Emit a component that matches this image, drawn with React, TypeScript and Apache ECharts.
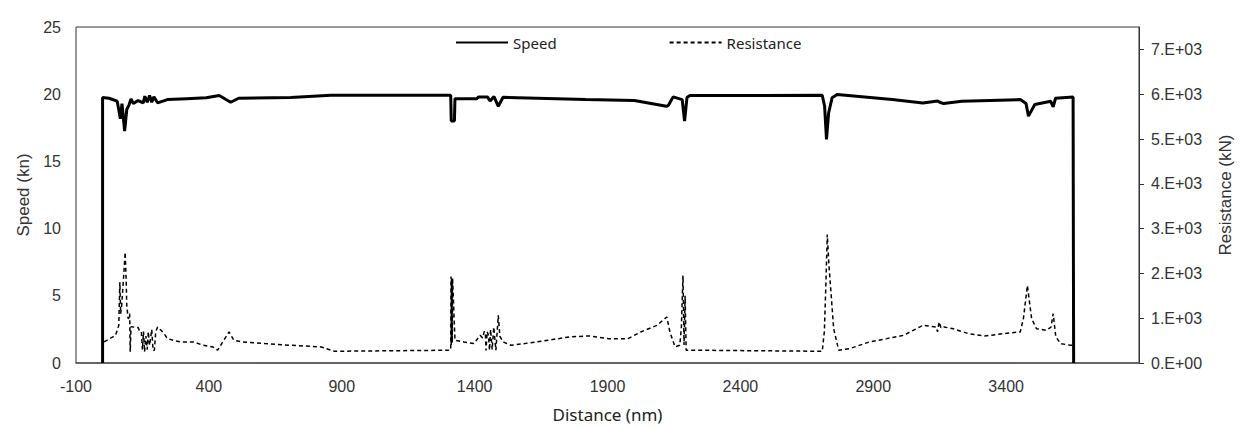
import React, { useEffect, useRef } from "react";
import * as echarts from "echarts";

// Speed (kn) vs distance (nm)
const speedDist = [0, 0, 24, 55, 67, 73, 83, 91, 100, 107, 116, 134, 153, 159, 168, 177, 185, 193, 207, 244, 317, 390, 439, 482, 512, 708, 859, 1310, 1312, 1324, 1326, 1408, 1415, 1448, 1458, 1473, 1480, 1489, 1507, 1818, 2001, 2122, 2129, 2147, 2181, 2190, 2199, 2210, 2708, 2717, 2724, 2732, 2745, 2764, 2971, 3087, 3142, 3150, 3165, 3233, 3453, 3475, 3484, 3508, 3568, 3577, 3586, 3652, 3654, 3654];
const speedVal = [0, 19.75, 19.7, 19.48, 18.17, 19.3, 17.26, 18.86, 19.23, 19.65, 19.3, 19.53, 19.36, 19.85, 19.4, 19.9, 19.4, 19.8, 19.36, 19.6, 19.67, 19.73, 19.9, 19.4, 19.7, 19.75, 19.92, 19.92, 18.0, 18.0, 19.67, 19.67, 19.8, 19.8, 19.5, 19.82, 19.5, 19.1, 19.77, 19.6, 19.53, 19.1, 19.16, 19.8, 19.6, 18.0, 19.75, 19.9, 19.92, 19.1, 16.64, 18.6, 19.73, 19.97, 19.6, 19.35, 19.5, 19.4, 19.3, 19.48, 19.6, 19.3, 18.37, 19.23, 19.47, 19.06, 19.7, 19.8, 19.8, 0];

// Resistance (kN) vs distance (nm)
const resDist = [6, 49, 61, 65, 68, 72, 80, 85, 89, 91, 96, 98, 102, 104, 107, 120, 134, 140, 146, 150, 154, 158, 163, 168, 172, 177, 185, 190, 195, 200, 207, 220, 232, 244, 270, 293, 342, 378, 415, 433, 452, 476, 494, 525, 610, 708, 822, 873, 1299, 1310, 1311, 1312, 1313, 1314, 1315, 1316, 1317, 1326, 1360, 1397, 1421, 1430, 1436, 1440, 1443, 1447, 1452, 1456, 1460, 1466, 1472, 1480, 1489, 1495, 1507, 1537, 1635, 1757, 1830, 1903, 1977, 2025, 2086, 2123, 2135, 2154, 2172, 2178, 2184, 2188, 2192, 2196, 2230, 2708, 2716, 2722, 2727, 2733, 2739, 2751, 2770, 2812, 2886, 2951, 3014, 3087, 3130, 3136, 3142, 3148, 3155, 3166, 3197, 3258, 3319, 3392, 3453, 3465, 3480, 3496, 3514, 3550, 3569, 3577, 3587, 3605, 3642, 3652];
const resVal = [471, 618, 840, 1800, 1100, 1300, 2000, 2471, 1800, 1284, 1000, 989, 1100, 249, 811, 800, 790, 700, 693, 300, 700, 249, 600, 300, 700, 396, 750, 280, 285, 700, 804, 730, 650, 544, 500, 471, 471, 396, 359, 285, 471, 693, 507, 471, 433, 396, 359, 262, 285, 290, 1930, 400, 1900, 500, 1880, 450, 1900, 507, 470, 433, 618, 560, 700, 693, 280, 700, 618, 285, 750, 300, 800, 285, 1062, 600, 471, 396, 471, 582, 604, 544, 544, 693, 840, 1027, 693, 360, 396, 800, 1951, 400, 1500, 285, 285, 262, 700, 1800, 2870, 2200, 1729, 767, 285, 322, 471, 544, 618, 840, 810, 804, 700, 916, 780, 804, 770, 656, 604, 656, 693, 989, 1729, 989, 767, 730, 800, 1100, 582, 433, 396, 396];

const xLabels = [-100, 400, 900, 1400, 1900, 2400, 2900, 3400];
const rightLabels = [0, 1000, 2000, 3000, 4000, 5000, 6000, 7000];

const tickFont = "Arial";
const textFont = "Noto Sans";

export default function App() {
  const ref = useRef<HTMLDivElement>(null);
  useEffect(() => {
    if (!ref.current) return;
    const chart = echarts.init(ref.current, undefined, { renderer: "svg" });
    const speedData = speedDist.map((d, i) => [d, speedVal[i]]);
    const resData = resDist.map((d, i) => [d, resVal[i]]);
    chart.setOption({
      animation: false,
      backgroundColor: "#fff",
      grid: {
        left: 76,
        right: 104,
        top: 27,
        bottom: 63,
        show: true,
        borderColor: "#333",
        borderWidth: 1,
      },
      legend: {
        left: 450,
        top: 30,
        itemWidth: 52,
        itemHeight: 14,
        itemGap: 112,
        itemStyle: { opacity: 0, color: "transparent", borderWidth: 0 },
        textStyle: { fontFamily: textFont, fontSize: 15, color: "#222" },
        data: ["Speed", "Resistance"],
      },
      xAxis: {
        type: "value",
        min: -100,
        max: 3900,
        name: "Distance (nm)",
        nameLocation: "middle",
        nameGap: 43,
        nameTextStyle: { fontFamily: textFont, fontSize: 17, color: "#222" },
        axisLine: { show: true, lineStyle: { color: "#555", width: 1.5 } },
        axisTick: { show: false },
        splitLine: { show: false },
        axisLabel: {
          customValues: xLabels,
          margin: 15,
          fontFamily: tickFont,
          fontSize: 16,
          color: "#333",
          formatter: (v: number) => String(v),
        },
      },
      yAxis: [
        {
          type: "value",
          min: 0,
          max: 25,
          interval: 5,
          name: "Speed (kn)",
          nameLocation: "middle",
          nameGap: 41,
          nameTextStyle: { fontFamily: tickFont, fontSize: 17, color: "#333" },
          axisLine: { show: false },
          axisTick: { show: false },
          splitLine: { show: false },
          axisLabel: { margin: 15, fontFamily: tickFont, fontSize: 16, color: "#333" },
        },
        {
          type: "value",
          min: 0,
          max: 7500,
          position: "right",
          name: "Resistance (kN)",
          nameLocation: "middle",
          nameGap: 78,
          nameTextStyle: { fontFamily: tickFont, fontSize: 17, color: "#333" },
          axisLine: { show: true, lineStyle: { color: "#333", width: 1 } },
          axisTick: { show: true, length: 5, customValues: rightLabels, lineStyle: { color: "#333" } },
          splitLine: { show: false },
          axisLabel: {
            customValues: rightLabels,
            margin: 12,
            fontFamily: tickFont,
            fontSize: 16,
            color: "#333",
            formatter: (v: number) => (v === 0 ? "0.E+00" : (v / 1000).toFixed(0) + ".E+03"),
          },
        },
      ],
      series: [
        {
          name: "Speed",
          type: "line",
          yAxisIndex: 0,
          data: speedData,
          symbol: "none",
          lineStyle: { color: "#000", width: 3 },
          itemStyle: { color: "#000" },
        },
        {
          name: "Resistance",
          type: "line",
          yAxisIndex: 1,
          data: resData,
          symbol: "none",
          lineStyle: { color: "#000", width: 1.5, type: [4, 3] },
          itemStyle: { color: "#000" },
        },
      ],
    });
    return () => chart.dispose();
  }, []);
  return (
    <div
      ref={ref}
      style={{ position: "fixed", left: 0, top: 0, width: 1243, height: 428, background: "#fff" }}
    />
  );
}
